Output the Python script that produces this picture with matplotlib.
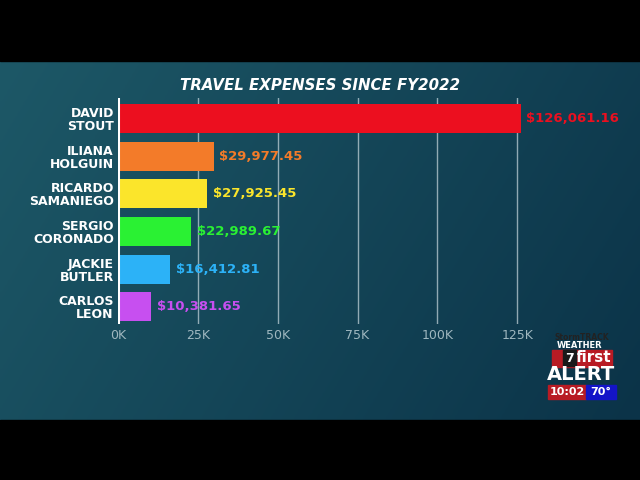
import matplotlib
matplotlib.use('Agg')
import matplotlib.pyplot as plt
from matplotlib.patches import Rectangle
import numpy as np

names = ['DAVID\nSTOUT', 'ILIANA\nHOLGUIN', 'RICARDO\nSAMANIEGO',
         'SERGIO\nCORONADO', 'JACKIE\nBUTLER', 'CARLOS\nLEON']
expenses = [126061.16, 29977.45, 27925.45, 22989.67, 16412.81, 10381.65]
bar_colors = ['#ec0f1f', '#f37b29', '#fbe52b', '#2af133', '#2cb2f7', '#c74ff0']
tick_values = [0, 25000, 50000, 75000, 100000, 125000]
tick_labels = ['0K', '25K', '50K', '75K', '100K', '125K']

fig = plt.figure(figsize=(6.4, 4.8), dpi=100)
fig.patch.set_facecolor('black')

# background: teal gradient between black letterbox bars
bg = fig.add_axes([0, 0, 1, 1])
bg.set_xlim(0, 640)
bg.set_ylim(480, 0)
bg.axis('off')
gx = np.linspace(0, 1, 256)
gy = np.linspace(0, 1, 64)
X, Y = np.meshgrid(gx, gy)
left = np.array([0x1d, 0x58, 0x67]) / 255.
right = np.array([0x0b, 0x33, 0x48]) / 255.
t = np.clip(0.75 * X + 0.25 * Y, 0, 1)[..., None]
grad = left * (1 - t) + right * t
bg.imshow(grad, extent=[0, 640, 420, 61], aspect='auto', zorder=0)
bg.add_patch(Rectangle((0, 0), 640, 61, color='black', zorder=1))
bg.add_patch(Rectangle((0, 420), 640, 60, color='black', zorder=1))

# station logo
bg.text(582, 337, 'StormTRACK', color='#222', fontsize=5.5, ha='center', va='center', weight='bold')
bg.text(580, 345, 'WEATHER', color='white', fontsize=6, ha='center', va='center', weight='bold')
bg.add_patch(Rectangle((552, 350), 60, 17, color='#b81b24', zorder=2))
bg.text(594, 358, 'first', color='white', fontsize=11, ha='center', va='center', weight='bold', zorder=3)
bg.add_patch(Rectangle((563, 350), 13, 16, color='#1a1a1a', zorder=3))
bg.text(569.5, 358, '7', color='white', fontsize=9, ha='center', va='center', weight='bold', zorder=4)
bg.text(581, 375, 'ALERT', color='white', fontsize=14, ha='center', va='center', weight='bold', zorder=3)
bg.add_patch(Rectangle((548, 385), 38, 14, color='#b81b24', zorder=2))
bg.add_patch(Rectangle((586, 385), 30, 14, color='#1414c8', zorder=2))
bg.text(567, 392, '10:02', color='white', fontsize=8, ha='center', va='center', weight='bold', zorder=3)
bg.text(601, 392, '70°', color='white', fontsize=8, ha='center', va='center', weight='bold', zorder=3)

# title
fig.text(320 / 640, 1 - 85 / 480, 'TRAVEL EXPENSES SINCE FY2022', color='white',
         fontsize=10.8, weight='bold', style='italic', ha='center', va='center')

ax = fig.add_axes([118 / 640, 1 - 323.6 / 480, 412 / 640, 225.6 / 480])
ax.patch.set_alpha(0)
ypos = np.arange(len(names))
ax.barh(ypos, expenses, height=0.77, color=bar_colors, zorder=3)
ax.set_xlim(0, 129000)
ax.set_ylim(5.45, -0.55)
for x in tick_values[1:]:
    ax.axvline(x, color='#c8d8de', lw=1, alpha=0.7, zorder=1)
ax.axvline(0, color='white', lw=2.2, zorder=4)
for s in ax.spines.values():
    s.set_visible(False)
ax.set_xticks(tick_values)
ax.set_xticklabels(tick_labels, color='#9fb7bf', fontsize=9)
ax.set_yticks(ypos)
ax.set_yticklabels(names, color='white', fontsize=9, weight='heavy', linespacing=1.0)
ax.tick_params(length=0, pad=3)
ax.tick_params(axis='x', pad=4)

for y, v, c in zip(ypos, expenses, bar_colors):
    ax.annotate('${:,.2f}'.format(v), xy=(v, y), xytext=(4, 0), textcoords='offset points',
                color=c, fontsize=9.5, weight='bold', va='center', ha='left', zorder=5)

fig.savefig('out.png', dpi=100, facecolor='black')
